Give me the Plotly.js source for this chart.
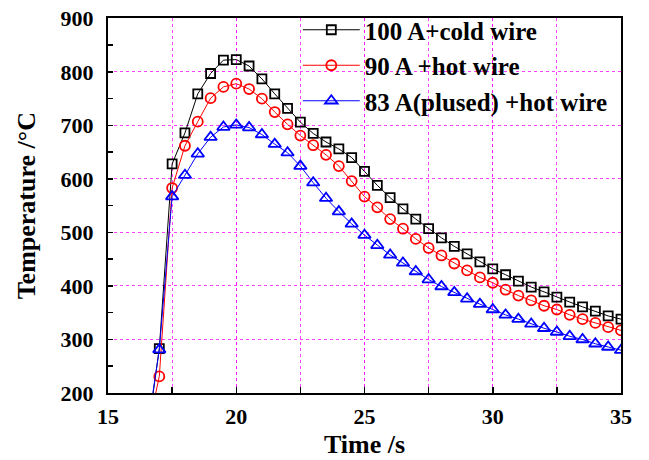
<!DOCTYPE html>
<html>
<head>
<meta charset="utf-8">
<script src="https://cdn.plot.ly/plotly-3.0.1.min.js"></script>
<style>html,body{margin:0;padding:0;background:#fff;}#chart{width:649px;height:460px;}</style>
</head>
<body>
<div id="chart"></div>
<script>
const timeS = [16.5,17,17.5,18,18.5,19,19.5,20,20.5,21,21.5,22,22.5,23,23.5,24,24.5,25,25.5,26,26.5,27,27.5,28,28.5,29,29.5,30,30.5,31,31.5,32,32.5,33,33.5,34,34.5,35];
const cold100A = [110,283,628,686,759,797,822,823,811,787,759,732,706,685,669,656,640,614,588,565,544,525,507,490,474,460,445,432,421,409,398,389,379,370,361,353,344,338];
const hot90A = [120,231,583,662,707,751,772,778,768,750,725,702,681,663,645,624,596,567,547,525,507,488,471,457,442,429,416,406,393,382,373,363,356,346,338,331,323,317];
const pulsed83A = [119,281,567,607,647,678,697,701,696,683,665,649,624,593,564,539,516,495,476,458,443,427,412,399,388,376,366,356,346,338,329,321,314,306,300,292,286,280];
const seriesNames = ["100 A+cold wire","90 A +hot wire","83 A(plused) +hot wire"];
const xTickVals = [15,20,25,30,35];
const yTickVals = [200,300,400,500,600,700,800,900];

const FONT = "Times New Roman, Liberation Serif, serif";
const grid = "rgba(255,0,255,0.75)";

const traces = [
  {x: timeS, y: cold100A, name: seriesNames[0], mode: "lines+markers",
   line: {color: "#000000", width: 1},
   marker: {symbol: "square-open", size: 9, color: "#000000", line: {width: 1.8, color: "#000000"}}},
  {x: timeS, y: hot90A, name: seriesNames[1], mode: "lines+markers",
   line: {color: "#ff0000", width: 1},
   marker: {symbol: "circle-open", size: 10, color: "#ff0000", line: {width: 1.8, color: "#ff0000"}}},
  {x: timeS, y: pulsed83A, name: seriesNames[2], mode: "lines+markers",
   line: {color: "#0000ff", width: 1},
   marker: {symbol: "triangle-up-open", size: 11, color: "#0000ff", line: {width: 1.8, color: "#0000ff"}}}
];

const layout = {
  width: 649, height: 460,
  margin: {l: 108, r: 28, t: 7, b: 67},
  paper_bgcolor: "#ffffff", plot_bgcolor: "#ffffff",
  font: {family: FONT, size: 22, color: "#000000", weight: "bold"},
  showlegend: true,
  legend: {x: 0.37, y: 1.0, xanchor: "left", yanchor: "top", bgcolor: "rgba(0,0,0,0)",
           font: {family: FONT, size: 25, weight: "bold", color: "#000"}, tracegroupgap: 0, itemwidth: 57},
  xaxis: {
    range: [15, 35], tickvals: xTickVals, ticktext: xTickVals.map(String),
    ticks: "inside", ticklen: 6, tickwidth: 1.5, tickcolor: "#000",
    showline: true, linecolor: "#000", linewidth: 2, mirror: true,
    showgrid: true, gridcolor: grid, gridwidth: 1, griddash: "3px,3px",
    zeroline: false, ticklabelstandoff: 3,
    minor: {dtick: 2.5, tick0: 15, ticks: "inside", ticklen: 6, tickwidth: 1.5, tickcolor: "#000",
            showgrid: true, gridcolor: grid, gridwidth: 1, griddash: "3px,3px"},
    tickfont: {family: FONT, size: 22, weight: "bold"},
    title: {text: "Time /s", font: {family: FONT, size: 26, weight: "bold"}, standoff: 6}
  },
  yaxis: {
    domain: [0, 0.9705],
    range: [200, 900], tickvals: yTickVals, ticktext: yTickVals.map(String),
    ticks: "inside", ticklen: 5, tickwidth: 1.5, tickcolor: "#000",
    showline: true, linecolor: "#000", linewidth: 2, mirror: true,
    showgrid: true, gridcolor: grid, gridwidth: 1, griddash: "3px,3px",
    zeroline: false, ticklabelstandoff: 8,
    minor: {dtick: 50, tick0: 200, ticks: "inside", ticklen: 5, tickwidth: 1.5, tickcolor: "#000", showgrid: false},
    tickfont: {family: FONT, size: 22, weight: "bold"},
    title: {text: "Temperature /°C", font: {family: FONT, size: 26, weight: "bold"}, standoff: 17}
  }
};

Plotly.newPlot("chart", traces, layout, {displayModeBar: false, staticPlot: true});
</script>
</body>
</html>
